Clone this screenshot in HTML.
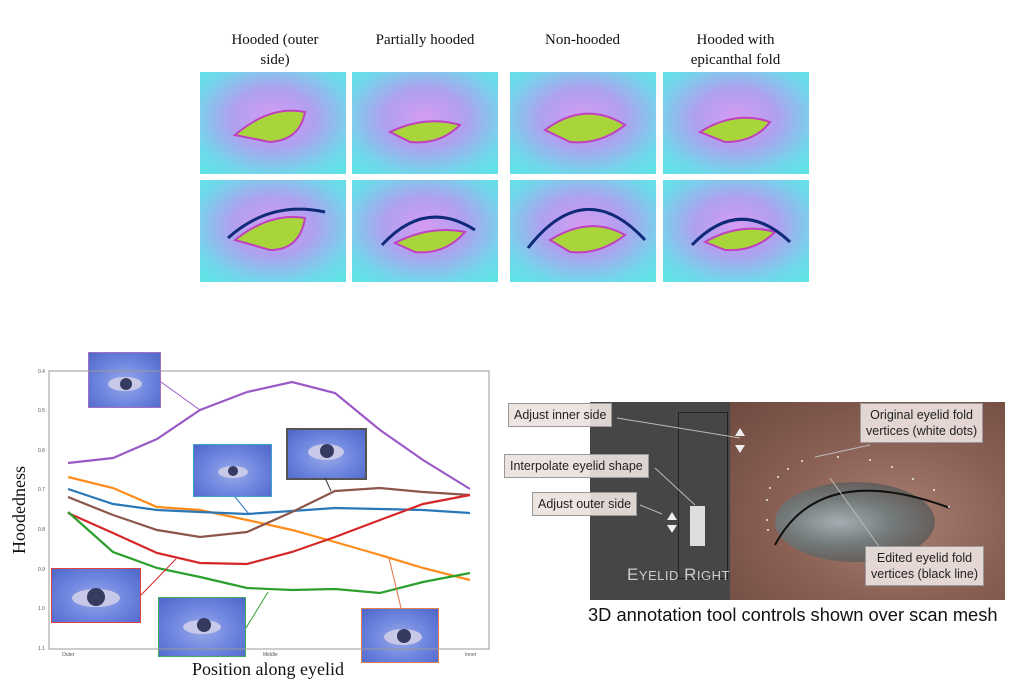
<!DOCTYPE html>
<html><head><meta charset="utf-8"><style>
body{margin:0;width:1024px;height:683px;background:#fff;position:relative;overflow:hidden;font-family:"Liberation Serif",serif}
.t{position:absolute;text-align:center;font-size:15px;color:#111;line-height:20px}
.img{position:absolute;overflow:hidden}
.lbl{position:absolute;background:rgba(235,225,222,.92);border:1px solid #999;font-family:"Liberation Sans",sans-serif;font-size:12.5px;color:#222;text-align:center;line-height:16px;padding:3px 5px}
.ins{position:absolute;background:radial-gradient(ellipse at 50% 55%,#9aa9e8 0%,#6f86e0 50%,#4d66c8 100%)}
</style></head><body>
<div class="t" style="left:205px;top:30px;width:140px">Hooded (outer<br>side)</div>
<div class="t" style="left:352px;top:30px;width:146px">Partially hooded</div>
<div class="t" style="left:510px;top:30px;width:145px">Non-hooded</div>
<div class="t" style="left:663px;top:30px;width:145px">Hooded with<br>epicanthal fold</div>
<div class="ins" style="left:88px;top:352px;width:71px;height:54px;border:1px solid #a070c0"></div>
<div class="ins" style="left:193px;top:444px;width:77px;height:51px;border:1px solid #40a0d0"></div>
<div class="ins" style="left:286px;top:428px;width:77px;height:48px;border:2px solid #555"></div>
<div class="ins" style="left:51px;top:568px;width:88px;height:53px;border:1px solid #e04040"></div>
<div class="ins" style="left:158px;top:597px;width:86px;height:58px;border:1px solid #40b060"></div>
<div class="ins" style="left:361px;top:608px;width:76px;height:53px;border:1px solid #e08050"></div>
<svg width="1024" height="683" style="position:absolute;left:0;top:0">
<defs><radialGradient id="g" cx="50%" cy="45%" r="70%"><stop offset="0" stop-color="#d49cf2"/><stop offset=".4" stop-color="#b0a0f0"/><stop offset=".8" stop-color="#70d8ea"/><stop offset="1" stop-color="#60e2e6"/></radialGradient></defs>
<g>
<rect x="200" y="72" width="146" height="102" fill="url(#g)"/><rect x="352" y="72" width="146" height="102" fill="url(#g)"/><rect x="510" y="72" width="146" height="102" fill="url(#g)"/><rect x="663" y="72" width="146" height="102" fill="url(#g)"/>
<rect x="200" y="180" width="146" height="102" fill="url(#g)"/><rect x="352" y="180" width="146" height="102" fill="url(#g)"/><rect x="510" y="180" width="146" height="102" fill="url(#g)"/><rect x="663" y="180" width="146" height="102" fill="url(#g)"/>
<path d="M235 135 Q270 105 305 112 Q300 140 270 142 Z" fill="#a8d53a" stroke="#c040c0" stroke-width="2"/>
<path d="M390 132 Q425 115 460 125 Q440 145 410 142 Z" fill="#a8d53a" stroke="#c040c0" stroke-width="2"/>
<path d="M545 130 Q585 100 625 125 Q600 145 570 142 Z" fill="#a8d53a" stroke="#c040c0" stroke-width="2"/>
<path d="M700 132 Q735 110 770 122 Q755 142 725 142 Z" fill="#a8d53a" stroke="#c040c0" stroke-width="2"/>
<path d="M235 240 Q270 212 305 218 Q300 250 270 250 Z" fill="#a8d53a" stroke="#c040c0" stroke-width="2"/>
<path d="M228 238 Q270 200 325 212" stroke="#0e2a78" stroke-width="3" fill="none"/>
<path d="M395 243 Q430 225 465 232 Q445 255 415 252 Z" fill="#a8d53a" stroke="#c040c0" stroke-width="2"/>
<path d="M382 245 Q425 198 475 230" stroke="#0e2a78" stroke-width="3" fill="none"/>
<path d="M550 240 Q590 215 625 235 Q600 255 570 252 Z" fill="#a8d53a" stroke="#c040c0" stroke-width="2"/>
<path d="M528 248 Q585 175 645 240" stroke="#0e2a78" stroke-width="3" fill="none"/>
<path d="M705 242 Q740 222 775 232 Q755 252 725 250 Z" fill="#a8d53a" stroke="#c040c0" stroke-width="2"/>
<path d="M692 245 Q740 195 790 242" stroke="#0e2a78" stroke-width="3" fill="none"/>
</g>
<!-- inset eyes -->
<g fill="#c8c8e8"><ellipse cx="125" cy="384" rx="17" ry="7"/><ellipse cx="233" cy="472" rx="15" ry="6"/><ellipse cx="326" cy="452" rx="18" ry="8"/><ellipse cx="96" cy="598" rx="24" ry="9"/><ellipse cx="202" cy="627" rx="19" ry="7"/><ellipse cx="403" cy="637" rx="19" ry="8"/></g>
<g fill="#353a60"><circle cx="126" cy="384" r="6"/><circle cx="233" cy="471" r="5"/><circle cx="327" cy="451" r="7"/><circle cx="96" cy="597" r="9"/><circle cx="204" cy="625" r="7"/><circle cx="404" cy="636" r="7"/></g>
<!-- chart -->
<rect x="49" y="371" width="440" height="278" fill="none" stroke="#999" stroke-width="1"/>
<g font-family="Liberation Sans,sans-serif" font-size="5" fill="#555">
<text x="38" y="373">0.4</text><text x="38" y="412">0.5</text><text x="38" y="452">0.6</text><text x="38" y="491">0.7</text><text x="38" y="531">0.8</text><text x="38" y="571">0.9</text><text x="38" y="610">1.0</text><text x="38" y="650">1.1</text>
<text x="62" y="656">Outer</text><text x="263" y="656">Middle</text><text x="465" y="656">Inner</text></g>
<g fill="none" stroke-width="2.2">
<polyline stroke="#9b59c6" points="68,463 113,458 157,439 200,410 247,392 292,382 335,393 380,430 423,460 470,489"/>
<polyline stroke="#ff8c1a" points="68,477 113,488 157,507 200,510 247,520 292,530 335,542 380,555 423,568 470,580"/>
<polyline stroke="#2a78b8" points="68,489 113,504 157,510 200,512 247,514 292,511 335,508 380,509 423,510 470,513"/>
<polyline stroke="#8c564b" points="68,497 113,515 157,530 200,537 247,532 292,512 335,491 380,488 423,492 470,495"/>
<polyline stroke="#d62728" points="68,513 113,533 157,553 200,563 247,564 292,552 335,537 380,520 423,504 470,495"/>
<polyline stroke="#2ca02c" points="68,512 113,552 157,568 200,577 247,588 292,590 335,589 380,593 423,582 470,573"/>
</g>
<g stroke-width="1" fill="none">
<line x1="161" y1="382" x2="200" y2="410" stroke="#9b59c6"/>
<line x1="235" y1="497" x2="249" y2="514" stroke="#2a78b8"/>
<line x1="325" y1="478" x2="331" y2="491" stroke="#333"/>
<line x1="141" y1="595" x2="176" y2="559" stroke="#d62728"/>
<line x1="246" y1="628" x2="268" y2="592" stroke="#2ca02c"/>
<line x1="401" y1="608" x2="389" y2="558" stroke="#e07040"/>
</g>
<text x="25" y="510" transform="rotate(-90 25 510)" font-size="18" text-anchor="middle" fill="#111">Hoodedness</text>
<text x="268" y="675" font-size="18" text-anchor="middle" fill="#111">Position along eyelid</text>
</svg>
<!-- right photo -->
<div class="img" style="left:590px;top:402px;width:415px;height:198px;background:#464646">
<div style="position:absolute;left:140px;top:0;width:275px;height:198px;background:radial-gradient(ellipse at 60% 60%,#a88072 0%,#8a6054 50%,#6d4a40 100%)"></div>
<div style="position:absolute;left:185px;top:80px;width:160px;height:80px;border-radius:50%;background:radial-gradient(ellipse at 40% 50%,#a4aeb2 0%,#737a7a 40%,#5a4640 100%)"></div>
<div style="position:absolute;left:100px;top:104px;width:15px;height:40px;background:#ddd"></div>
<div style="position:absolute;left:88px;top:10px;width:48px;height:165px;border:1px solid #222"></div>
</div>
<svg width="1024" height="683" style="position:absolute;left:0;top:0">
<path d="M775 545 Q820 460 950 508" stroke="#111" stroke-width="2" fill="none"/>
<g fill="#eee"><circle cx="767" cy="500" r="1"/><circle cx="770" cy="488" r="1"/><circle cx="778" cy="477" r="1"/><circle cx="788" cy="469" r="1"/><circle cx="802" cy="461" r="1"/><circle cx="838" cy="457" r="1"/><circle cx="870" cy="460" r="1"/><circle cx="892" cy="467" r="1"/><circle cx="913" cy="479" r="1"/><circle cx="934" cy="490" r="1"/><circle cx="949" cy="507" r="1"/><circle cx="767" cy="520" r="1"/><circle cx="768" cy="530" r="1"/></g>
<g fill="#eee"><polygon points="672,512 677,520 667,520"/><polygon points="667,525 677,525 672,533"/><polygon points="740,428 745,436 735,436"/><polygon points="735,445 745,445 740,453"/></g>
<g stroke="#bbb" stroke-width="1"><line x1="617" y1="418" x2="740" y2="438"/><line x1="655" y1="468" x2="695" y2="505"/><line x1="640" y1="505" x2="662" y2="514"/><line x1="870" y1="445" x2="815" y2="457"/><line x1="883" y1="552" x2="830" y2="478"/></g>
<text x="627" y="580" font-family="Liberation Sans,sans-serif" font-size="17" fill="#ccc" letter-spacing="0.5">E<tspan font-size="13">YELID</tspan> R<tspan font-size="13">IGHT</tspan></text>
</svg>
<div class="lbl" style="left:508px;top:403px">Adjust inner side</div>
<div class="lbl" style="left:504px;top:454px">Interpolate eyelid shape</div>
<div class="lbl" style="left:532px;top:492px">Adjust outer side</div>
<div class="lbl" style="left:860px;top:403px">Original eyelid fold<br>vertices (white dots)</div>
<div class="lbl" style="left:865px;top:546px">Edited eyelid fold<br>vertices (black line)</div>
<div style="position:absolute;left:588px;top:604px;font-family:'Liberation Sans',sans-serif;font-size:18.3px;color:#111;white-space:nowrap">3D annotation tool controls shown over scan mesh</div>
</body></html>
